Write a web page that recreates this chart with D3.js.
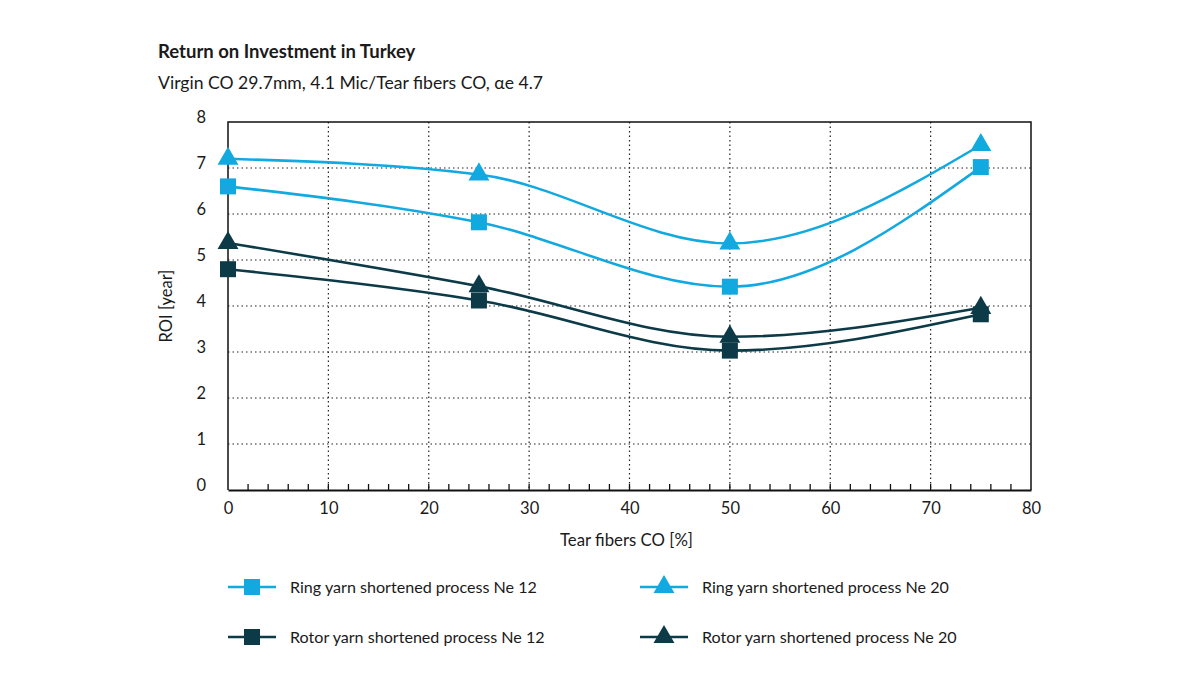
<!DOCTYPE html>
<html><head><meta charset="utf-8">
<script src="https://cdn.jsdelivr.net/npm/d3@7"></script>
<style>body{margin:0;background:#fff}svg{display:block}text{font-family:Lato,"Open Sans",sans-serif;fill:#1a1a1a}</style>
</head><body><svg width="1200" height="675"></svg>
<script>
const xValues = [0, 25, 50, 75];
const ringNe12 = [6.6, 5.82, 4.42, 7.02];
const ringNe20 = [7.2, 6.86, 5.36, 7.5];
const rotorNe12 = [4.8, 4.12, 3.03, 3.82];
const rotorNe20 = [5.37, 4.43, 3.33, 3.96];
const seriesNames = ["Ring yarn shortened process Ne 12","Ring yarn shortened process Ne 20","Rotor yarn shortened process Ne 12","Rotor yarn shortened process Ne 20"];
const xTicks = [0,10,20,30,40,50,60,70,80];
const yTicks = [0,1,2,3,4,5,6,7,8];
const title = "Return on Investment in Turkey";
const subtitle = "Virgin CO 29.7mm, 4.1 Mic/Tear fibers CO, \u03b1e 4.7";

const light = "#12a9e1", dark = "#0c3a47";
const series = [
  {name: seriesNames[0], values: ringNe12, color: light, shape: "square"},
  {name: seriesNames[1], values: ringNe20, color: light, shape: "triangle"},
  {name: seriesNames[2], values: rotorNe12, color: dark, shape: "square"},
  {name: seriesNames[3], values: rotorNe20, color: dark, shape: "triangle"}
];

const svg = d3.select("svg");
const L = 228, R = 1031, T = 122, B = 490;
const x = d3.scaleLinear().domain([0,80]).range([L,R]);
const y = d3.scaleLinear().domain([0,8]).range([B,T]);

svg.append("text").attr("x",158).attr("y",58).attr("font-size",18.5).attr("font-weight","bold").text(title);
svg.append("text").attr("x",158).attr("y",89).attr("font-size",17.6).text(subtitle);

// gridlines
const g = svg.append("g");
g.selectAll(".gx").data(xTicks.filter(d=>d>0&&d<80)).join("line")
  .attr("x1",d=>x(d)).attr("x2",d=>x(d)).attr("y1",T).attr("y2",B)
  .attr("stroke","#222").attr("stroke-width",1.2).attr("stroke-dasharray","1.5,3");
g.selectAll(".gy").data(yTicks.filter(d=>d>0&&d<8)).join("line")
  .attr("x1",L).attr("x2",R).attr("y1",d=>y(d)).attr("y2",d=>y(d))
  .attr("stroke","#222").attr("stroke-width",1.2).attr("stroke-dasharray","1.5,3");

// frame
svg.append("path").attr("d",`M${L},${B}V${T}H${R}V${B}`).attr("fill","none").attr("stroke","#111").attr("stroke-width",1.5);

// x axis
const xAxis = svg.append("g").attr("transform",`translate(0,${B})`)
  .call(d3.axisBottom(x).tickValues(xTicks).tickSize(0).tickPadding(12).tickFormat(d3.format("d")));
xAxis.select(".domain").attr("stroke","#111").attr("stroke-width",2.2);
xAxis.selectAll("text").attr("font-size",16.5).attr("fill","#1a1a1a").attr("font-family","Lato,sans-serif");
svg.append("g").selectAll("line").data(d3.range(2,80,2)).join("line")
  .attr("x1",d=>x(d)).attr("x2",d=>x(d)).attr("y1",B).attr("y2",B-6)
  .attr("stroke","#111").attr("stroke-width",1.3);

// y axis
const yAxis = svg.append("g").attr("transform",`translate(${L},0)`)
  .call(d3.axisLeft(y).tickValues(yTicks).tickSize(0).tickPadding(22).tickFormat(d3.format("d")));
yAxis.select(".domain").remove();
yAxis.selectAll("text").attr("font-size",16.5).attr("fill","#1a1a1a").attr("dy","0").attr("font-family","Lato,sans-serif");

svg.append("text").attr("transform",`translate(172,${(T+B)/2}) rotate(-90)`).attr("text-anchor","middle").attr("font-size",16.5).text("ROI [year]");
svg.append("text").attr("x",(L+R)/2 - 3).attr("y",546).attr("text-anchor","middle").attr("font-size",16.8).text("Tear fibers CO [%]");

const line = d3.line().x((d,i)=>x(xValues[i])).y(d=>y(d)).curve(d3.curveMonotoneX);
const sqSym = d3.symbol().type(d3.symbolSquare).size(256);
const trSym = d3.symbol().type(d3.symbolTriangle).size(190);

function marker(sel, s){
  sel.attr("d", s.shape==="square" ? sqSym() : trSym()).attr("fill", s.color);
}

series.slice().reverse().forEach(s=>{
  svg.append("path").datum(s.values).attr("d",line).attr("fill","none").attr("stroke",s.color).attr("stroke-width",2.6);
});
series.forEach(s=>{
  svg.append("g").selectAll("path").data(s.values).join("path")
    .attr("transform",(d,i)=>`translate(${x(xValues[i])},${y(d)})`)
    .call(marker, s);
});

// legend
const legPos = [[228,587],[640,587],[228,637],[640,637]];
series.forEach((s,i)=>{
  const [lx,ly] = legPos[i];
  const lg = svg.append("g").attr("transform",`translate(${lx},${ly})`);
  lg.append("line").attr("x1",0).attr("x2",48).attr("stroke",s.color).attr("stroke-width",2.6);
  lg.append("path").attr("transform","translate(24,0)").call(marker, s);
  lg.append("text").attr("x",62).attr("y",6).attr("font-size",16.1).text(s.name);
});
</script></body></html>
